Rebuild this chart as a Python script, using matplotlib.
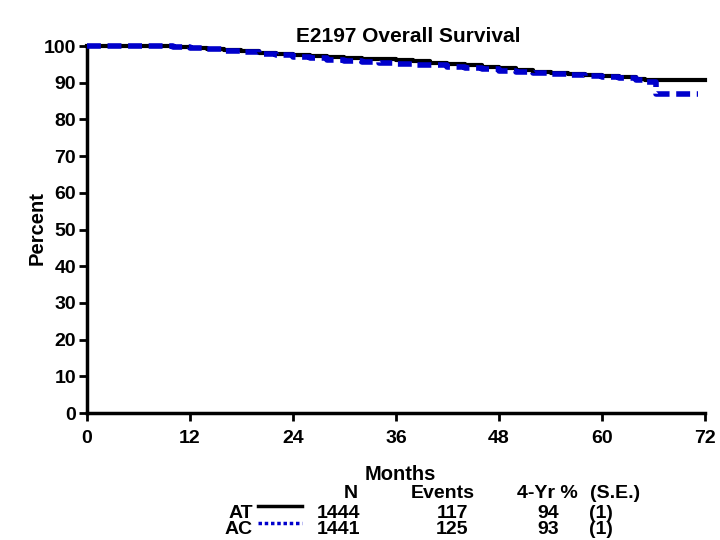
import matplotlib
matplotlib.use("Agg")
import matplotlib.pyplot as plt
from matplotlib.lines import Line2D

plt.rcParams['font.family'] = ['Liberation Sans', 'DejaVu Sans']
plt.rcParams['font.weight'] = 'bold'

# Data
at_months = [0, 2, 4, 6, 8, 10, 12, 14, 16, 18, 20, 22, 24, 26, 28, 30, 32, 34, 36, 38, 40,
             42, 44, 46, 48, 50, 52, 54, 56, 58, 60, 62, 64, 65, 72]
at_surv = [100, 100, 100, 100, 99.9, 99.7, 99.5, 99.2, 98.9, 98.6, 98.2, 97.9, 97.5, 97.2, 96.9,
           96.7, 96.5, 96.4, 96.2, 95.9, 95.5, 95.1, 94.7, 94.3, 93.9, 93.4, 93.0, 92.7, 92.4,
           92.1, 91.8, 91.5, 91.0, 90.7, 90.7]
ac_months = [0, 2, 4, 6, 8, 10, 12, 14, 16, 18, 20, 22, 24, 26, 28, 30, 32, 34, 36, 38, 40,
             42, 44, 46, 48, 50, 52, 54, 56, 58, 60, 62, 64, 65, 66.3, 71.2]
ac_surv = [100, 100, 100, 100, 100, 99.7, 99.4, 99.1, 98.7, 98.3, 97.9, 97.5, 97.1, 96.7, 96.3,
           95.9, 95.6, 95.3, 95.1, 94.9, 94.7, 94.4, 94.1, 93.7, 93.3, 92.9, 92.6, 92.4, 92.1,
           91.9, 91.6, 91.2, 90.6, 90.2, 87.0, 87.0]
x_ticks = [0, 12, 24, 36, 48, 60, 72]
y_ticks = [0, 10, 20, 30, 40, 50, 60, 70, 80, 90, 100]
groups = ["AT", "AC"]
n_vals = ["1444", "1441"]
events = ["117", "125"]
yr4 = ["94", "93"]
se = ["(1)", "(1)"]

fig = plt.figure(figsize=(7.2, 5.4), dpi=100)
ax = fig.add_axes([87/720, 1-413/540, (705-87)/720, (413-46)/540])

ax.step(at_months, at_surv, where='post', color='black', lw=3, zorder=2, clip_on=False)
ax.step(ac_months, ac_surv, where='post', color='#0000cc', lw=4, ls=(0, (2.5, 1.2)), zorder=3, clip_on=False)

ax.set_xlim(0, 72)
ax.set_ylim(0, 100)
ax.set_xticks(x_ticks)
ax.set_yticks(y_ticks)
ax.set_xticklabels([str(t) for t in x_ticks])
ax.set_yticklabels([str(t) for t in y_ticks])
ax.tick_params(axis='both', length=6, width=2, labelsize=14)
ax.tick_params(axis='x', pad=6)
ax.tick_params(axis='y', pad=2)
for lab in ax.get_xticklabels() + ax.get_yticklabels():
    lab.set_fontweight('bold')
for s in ['top', 'right']:
    ax.spines[s].set_visible(False)
for s in ['left', 'bottom']:
    ax.spines[s].set_linewidth(2.5)

fig.text(37/720, 1-228/540, "Percent", rotation=90, ha='center', va='center', fontsize=14.5, fontweight='bold')
fig.text(408/720, 1-37/540, "E2197 Overall Survival", ha='center', va='center', fontsize=15, fontweight='bold')
fig.text(400/720, 1-474/540, "Months", ha='center', va='center', fontsize=14.5, fontweight='bold')

# Table
fs = 14
y_h = 1-493/540
fig.text(358/720, y_h, "N", ha='right', va='center', fontsize=fs, fontweight='bold')
fig.text(475/720, y_h, "Events", ha='right', va='center', fontsize=fs, fontweight='bold')
fig.text(578/720, y_h, "4-Yr %", ha='right', va='center', fontsize=fs, fontweight='bold')
fig.text(590/720, y_h, "(S.E.)", ha='left', va='center', fontsize=fs, fontweight='bold')
row_y = [1-513/540, 1-530/540]
line_y = [1-506/540, 1-523/540]
styles = [dict(color='black', lw=2.5, ls='-'), dict(color='#0000cc', lw=2.5, ls=(0, (1, 0.8)))]
for i in range(2):
    fig.text(253/720, row_y[i], groups[i], ha='right', va='center', fontsize=fs, fontweight='bold')
    fig.add_artist(Line2D([258/720, 302/720], [line_y[i], line_y[i]], transform=fig.transFigure, **styles[i]))
    fig.text(360/720, row_y[i], n_vals[i], ha='right', va='center', fontsize=fs, fontweight='bold')
    fig.text(468/720, row_y[i], events[i], ha='right', va='center', fontsize=fs, fontweight='bold')
    fig.text(559/720, row_y[i], yr4[i], ha='right', va='center', fontsize=fs, fontweight='bold')
    fig.text(589/720, row_y[i], se[i], ha='left', va='center', fontsize=fs, fontweight='bold')

fig.savefig("out.png", dpi=100)
